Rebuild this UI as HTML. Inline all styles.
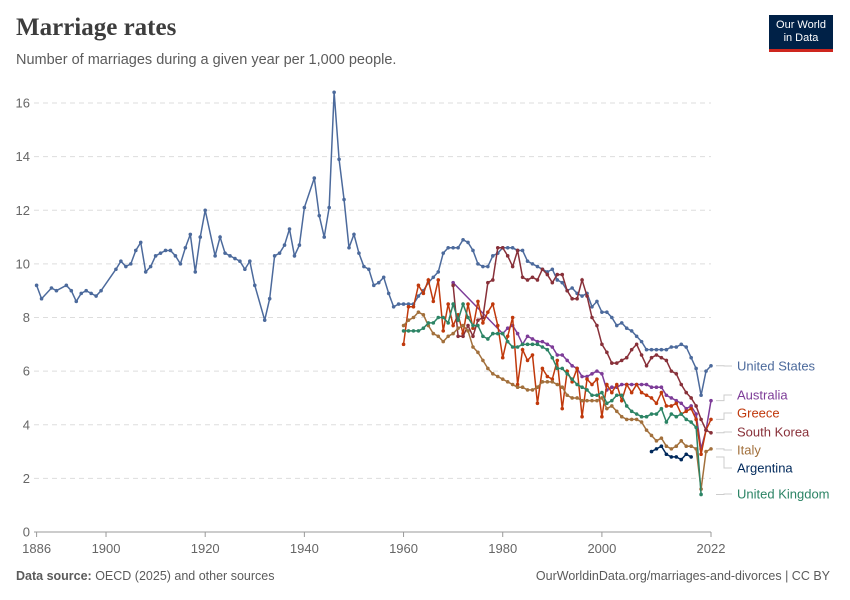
<!DOCTYPE html>
<html><head><meta charset="utf-8">
<style>
body{margin:0;background:#fff;font-family:"Liberation Sans",sans-serif;}
#wrap{position:relative;width:850px;height:600px;overflow:hidden;}
.title{position:absolute;left:16px;top:14px;font-family:"Liberation Serif",serif;font-weight:bold;font-size:25px;color:#3d3d3d;}
.sub{position:absolute;left:16px;top:52px;font-size:14.5px;color:#5b5b5b;}
.logo{position:absolute;left:769px;top:15px;width:64px;height:37px;background:#002147;color:#fff;font-size:11px;text-align:center;line-height:13px;padding-top:4px;box-sizing:border-box;border-bottom:3px solid #ce261e;}
.foot{position:absolute;top:569px;font-size:12.5px;color:#5b5b5b;}
</style></head><body>
<div id="wrap">
<div class="title">Marriage rates</div>
<div class="sub">Number of marriages during a given year per 1,000 people.</div>
<div class="logo">Our World<br>in Data</div>
<svg id="svg" width="850" height="600" style="position:absolute;left:0;top:0"></svg>
<div class="foot" style="left:16px"><b>Data source:</b> OECD (2025) and other sources</div>
<div class="foot" style="right:20px">OurWorldinData.org/marriages-and-divorces | CC BY</div>
</div>
<script>
const yTicks=[0,2,4,6,8,10,12,14,16];
const xTicks=[1886,1900,1920,1940,1960,1980,2000,2022];
const seriesNames=["United States","Australia","Greece","South Korea","Italy","Argentina","United Kingdom"];
const usYears=[1886,1887,1889,1890,1892,1893,1894,1895,1896,1897,1898,1899,1902,1903,1904,1905,1906,1907,1908,1909,1910,1911,1912,1913,1914,1915,1916,1917,1918,1919,1920,1922,1923,1924,1925,1926,1927,1928,1929,1930,1932,1933,1934,1935,1936,1937,1938,1939,1940,1942,1943,1944,1945,1946,1947,1948,1949,1950,1951,1952,1953,1954,1955,1956,1957,1958,1959,1960,1961,1962,1963,1964,1965,1966,1967,1968,1969,1970,1971,1972,1973,1974,1975,1976,1977,1978,1979,1980,1981,1982,1983,1984,1985,1986,1987,1988,1989,1990,1991,1992,1993,1994,1995,1996,1997,1998,1999,2000,2001,2002,2003,2004,2005,2006,2007,2008,2009,2010,2011,2012,2013,2014,2015,2016,2017,2018,2019,2020,2021,2022];
const usValues=[9.2,8.7,9.1,9.0,9.2,9.0,8.6,8.9,9.0,8.9,8.8,9.0,9.8,10.1,9.9,10.0,10.5,10.8,9.7,9.9,10.3,10.4,10.5,10.5,10.3,10.0,10.6,11.1,9.7,11.0,12.0,10.3,11.0,10.4,10.3,10.2,10.1,9.8,10.1,9.2,7.9,8.7,10.3,10.4,10.7,11.3,10.3,10.7,12.1,13.2,11.8,11.0,12.1,16.4,13.9,12.4,10.6,11.1,10.4,9.9,9.8,9.2,9.3,9.5,8.9,8.4,8.5,8.5,8.5,8.5,8.8,9.0,9.3,9.5,9.7,10.4,10.6,10.6,10.6,10.9,10.8,10.5,10.0,9.9,9.9,10.3,10.4,10.6,10.6,10.6,10.5,10.5,10.1,10.0,9.9,9.8,9.7,9.8,9.4,9.3,9.0,9.1,8.9,8.8,8.9,8.4,8.6,8.2,8.2,8.0,7.7,7.8,7.6,7.5,7.3,7.1,6.8,6.8,6.8,6.8,6.8,6.9,6.9,7.0,6.9,6.5,6.1,5.1,6.0,6.2];
const auYears=[1970,1980,1981,1982,1983,1984,1985,1986,1987,1988,1989,1990,1991,1992,1993,1994,1995,1996,1997,1998,1999,2000,2001,2002,2003,2004,2005,2006,2007,2008,2009,2010,2011,2012,2013,2014,2015,2016,2017,2018,2019,2020,2021,2022];
const auValues=[9.3,7.4,7.6,7.7,7.4,7.0,7.3,7.2,7.1,7.1,7.0,6.9,6.6,6.6,6.4,6.2,6.1,5.8,5.8,5.9,6.0,5.9,5.3,5.4,5.4,5.5,5.5,5.5,5.5,5.5,5.5,5.4,5.4,5.4,5.1,5.0,4.9,4.8,4.6,4.7,4.4,3.1,3.8,4.9];
const grYears=[1960,1961,1962,1963,1964,1965,1966,1967,1968,1969,1970,1971,1972,1973,1974,1975,1976,1977,1978,1979,1980,1981,1982,1983,1984,1985,1986,1987,1988,1989,1990,1991,1992,1993,1994,1995,1996,1997,1998,1999,2000,2001,2002,2003,2004,2005,2006,2007,2008,2009,2010,2011,2012,2013,2014,2015,2016,2017,2018,2019,2020,2021,2022];
const grValues=[7.0,8.4,8.4,9.2,8.9,9.4,8.6,9.4,7.5,8.5,7.7,8.1,7.4,8.5,7.6,8.6,7.8,8.2,8.5,7.7,6.5,7.3,8.0,5.5,6.8,6.4,6.6,4.8,6.1,5.8,5.7,6.4,4.6,6.0,5.6,6.1,4.3,5.7,5.5,5.7,4.3,5.5,5.2,5.5,4.9,5.5,5.2,5.5,5.2,5.1,5.0,4.8,5.2,4.7,4.7,4.8,4.4,4.5,4.6,4.2,2.9,3.8,4.2];
const krYears=[1970,1971,1972,1973,1974,1975,1976,1977,1978,1979,1980,1981,1982,1983,1984,1985,1986,1987,1988,1989,1990,1991,1992,1993,1994,1995,1996,1997,1998,1999,2000,2001,2002,2003,2004,2005,2006,2007,2008,2009,2010,2011,2012,2013,2014,2015,2016,2017,2018,2019,2020,2021,2022];
const krValues=[9.2,7.3,7.3,7.7,7.3,7.9,8.0,9.3,9.4,10.6,10.6,10.3,9.9,10.5,9.5,9.4,9.5,9.4,9.8,9.6,9.3,9.6,9.6,9.0,8.7,8.7,9.4,8.8,8.0,7.7,7.0,6.7,6.3,6.3,6.4,6.5,6.8,7.0,6.6,6.2,6.5,6.6,6.5,6.4,6.0,5.9,5.5,5.2,5.0,4.7,4.2,3.8,3.7];
const itYears=grYears;
const itValues=[7.7,7.9,8.0,8.2,8.1,7.7,7.4,7.3,7.1,7.3,7.4,7.6,7.7,7.5,6.9,6.7,6.4,6.1,5.9,5.8,5.7,5.6,5.5,5.4,5.4,5.3,5.3,5.4,5.6,5.6,5.6,5.5,5.4,5.1,5.0,5.0,4.9,4.9,4.9,4.9,5.0,4.6,4.7,4.5,4.3,4.2,4.2,4.2,4.1,3.8,3.6,3.4,3.5,3.2,3.1,3.2,3.4,3.2,3.2,3.1,1.6,3.0,3.1];
const arYears=[2010,2011,2012,2013,2014,2015,2016,2017,2018];
const arValues=[3.0,3.1,3.2,2.9,2.8,2.8,2.7,2.9,2.8];
const ukYears=[1960,1961,1962,1963,1964,1965,1966,1967,1968,1969,1970,1971,1972,1973,1974,1975,1976,1977,1978,1979,1980,1981,1982,1983,1984,1985,1986,1987,1988,1989,1990,1991,1992,1993,1994,1995,1996,1997,1998,1999,2000,2001,2002,2003,2004,2005,2006,2007,2008,2009,2010,2011,2012,2013,2014,2015,2016,2017,2018,2019,2020];
const ukValues=[7.5,7.5,7.5,7.5,7.6,7.8,7.8,8.0,8.0,7.8,8.5,7.9,8.5,8.0,7.7,7.7,7.3,7.2,7.4,7.4,7.4,7.1,6.9,6.9,7.0,7.0,7.0,7.0,6.9,6.8,6.5,6.1,6.1,5.9,5.7,5.5,5.4,5.3,5.1,5.1,5.2,4.8,4.9,5.1,5.1,4.7,4.5,4.4,4.3,4.3,4.4,4.4,4.6,4.1,4.4,4.3,4.4,4.2,4.1,3.9,1.4];

const svg=document.getElementById('svg');
const NS='http://www.w3.org/2000/svg';
const x0=36.6,x1=711,y0=532,y1=103;
const X=yr=>x0+(yr-1886)/(2022-1886)*(x1-x0);
const Y=v=>y0-v/16*(y0-y1);
function mk(t,a){const e=document.createElementNS(NS,t);for(const k in a)e.setAttribute(k,a[k]);svg.appendChild(e);return e;}
yTicks.forEach(v=>{
  if(v>0){const g=mk('line',{x1:34,x2:x1,y1:Y(v),y2:Y(v),stroke:'#ddd','stroke-dasharray':'5,4'});
  
  }
  const t=mk('text',{x:30,y:Y(v)+4.5,'text-anchor':'end','font-size':13,fill:'#666','font-family':'Liberation Sans'});
  t.textContent=v;
  
  
});
const ax=mk('line',{x1:34,x2:x1,y1:y0,y2:y0,stroke:'#999'});


xTicks.forEach(yr=>{
  const tk=mk('line',{x1:X(yr),x2:X(yr),y1:y0,y2:y0+5,stroke:'#999'});
  
  
  const t=mk('text',{x:X(yr),y:553,'text-anchor':'middle','font-size':13,fill:'#666','font-family':'Liberation Sans'});
  t.textContent=yr;
  
  
});
const series=[
 [usYears,usValues,'#4c6a9c',366],
 [auYears,auValues,'#7d3c98',395],
 [grYears,grValues,'#c0390c',413],
 [krYears,krValues,'#883039',432],
 [itYears,itValues,'#a2703c',450],
 [arYears,arValues,'#00295b',468],
 [ukYears,ukValues,'#2c8465',494]];
series.forEach((s,i)=>{
  const [ys,vs,c,ly]=s;
  const p=mk('polyline',{points:ys.map((y,j)=>X(y)+','+Y(vs[j])).join(' '),fill:'none',stroke:c,'stroke-width':1.5});
  
  
  ys.forEach((y,j)=>{
    const d=mk('circle',{cx:X(y),cy:Y(vs[j]),r:1.8,fill:c});
    
    
  });
  if(seriesNames[i]!=='Argentina'){
  const ey=Y(vs[vs.length-1]);
  const ln=mk('polyline',{points:`716,${ey} 724,${ey} 724,${ly} 732,${ly}`,fill:'none',stroke:'#ccc'});
  
  
  } else {
  const ln=mk('polyline',{points:`716,457 724,457 724,${ly} 732,${ly}`,fill:'none',stroke:'#ccc'});
  
  
  }
  const t=mk('text',{x:737,y:ly+4.5,'font-size':13,fill:c,'font-family':'Liberation Sans'});
  t.textContent=seriesNames[i];
  
  
});
</script>
</body></html>
